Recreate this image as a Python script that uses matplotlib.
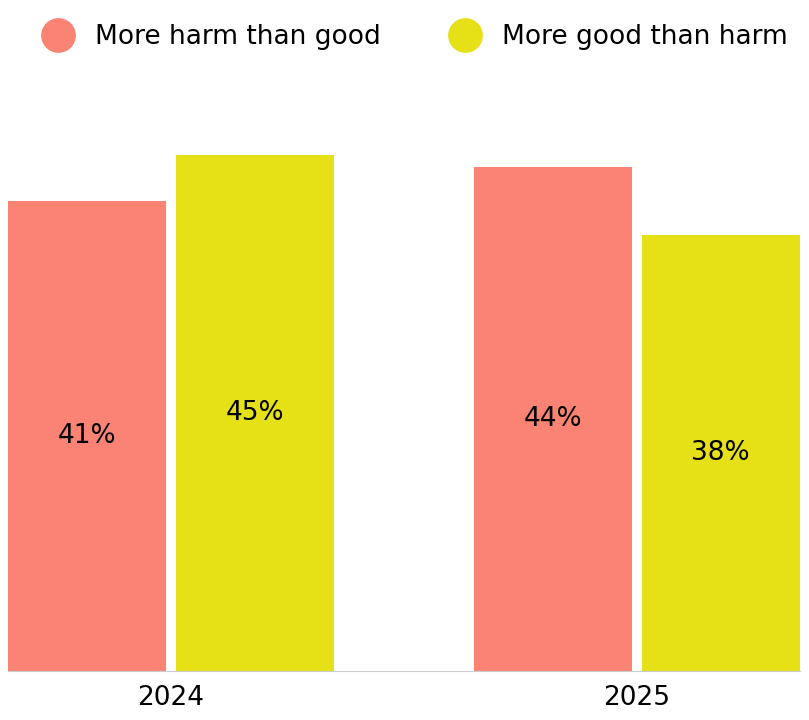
import numpy as np
import matplotlib.pyplot as plt
from matplotlib.lines import Line2D

years = ["2024", "2025"]
harm = [41, 44]
good = [45, 38]
series_names = ["More harm than good", "More good than harm"]
colors = ["#FA8373", "#E6E017"]

fig = plt.figure(figsize=(8.09, 7.2), dpi=100)
ax = fig.add_axes([8 / 809, 49 / 720, 792 / 809, 571 / 720])

x = np.arange(len(years))
w = 0.34
off = 0.18
for vals, dx, c in [(harm, -off, colors[0]), (good, off, colors[1])]:
    bars = ax.bar(x + dx, vals, width=w, color=c)
    for b, v in zip(bars, vals):
        ax.text(b.get_x() + b.get_width() / 2, v / 2, f"{v}%",
                ha="center", va="center", fontsize=19)

ax.set_xlim(-0.35, 1.35)
ax.set_ylim(0, 49.8)
ax.set_xticks(x)
ax.set_xticklabels(years, fontsize=19)
ax.tick_params(axis="x", length=0, pad=10)
ax.set_yticks([])
for s in ["top", "right", "left"]:
    ax.spines[s].set_visible(False)
ax.spines["bottom"].set_color("#cccccc")

handles = [Line2D([], [], marker="o", linestyle="", markersize=24, color=c)
           for c in colors]
fig.legend(handles, series_names, loc="upper left", bbox_to_anchor=(0.01, 1.0),
           ncol=2, frameon=False, fontsize=19, handletextpad=0.4,
           columnspacing=2.2)

fig.savefig("out.png", dpi=100)
